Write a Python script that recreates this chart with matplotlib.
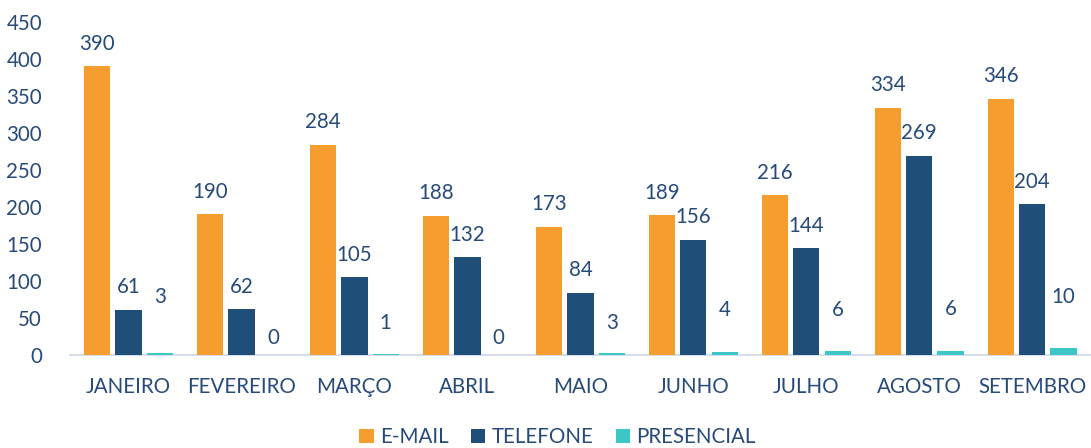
import numpy as np
import matplotlib
matplotlib.use('Agg')
import matplotlib.pyplot as plt

plt.rcParams['font.family'] = ['Lato', 'DejaVu Sans']

meses = ['JANEIRO', 'FEVEREIRO', 'MARÇO', 'ABRIL', 'MAIO', 'JUNHO', 'JULHO', 'AGOSTO', 'SETEMBRO']
email = [390, 190, 284, 188, 173, 189, 216, 334, 346]
telefone = [61, 62, 105, 132, 84, 156, 144, 269, 204]
presencial = [3, 0, 1, 0, 3, 4, 6, 6, 10]
series = ['E-MAIL', 'TELEFONE', 'PRESENCIAL']

c_email = '#F59D2E'
c_tel = '#1F4E79'
c_pres = '#3CC6C6'
c_txt = '#264A7A'
fs = 14.8

# label offsets above bar top (points); presencial labels sit higher
off_pres = [33, 5, 15, 5, 14, 23, 22, 23, 29]

fig = plt.figure(figsize=(10.91, 4.48), dpi=100)
ax = fig.add_axes([0.064, 0.2076, 0.936, 0.7434])

x = np.arange(len(meses))
w = 0.232
d = 0.277

b1 = ax.bar(x - d, email, w, color=c_email, label=series[0], zorder=3)
b2 = ax.bar(x, telefone, w, color=c_tel, label=series[1], zorder=3)
b3 = ax.bar(x + d, presencial, w, color=c_pres, label=series[2], zorder=3)

for bars, vals in ((b1, email), (b2, telefone)):
    for r, v in zip(bars, vals):
        ax.annotate(str(v), (r.get_x() + r.get_width() / 2, v), xytext=(0, 9),
                    textcoords='offset points', ha='center', va='bottom',
                    fontsize=fs, color=c_txt)
for r, v, o in zip(b3, presencial, off_pres):
    ax.annotate(str(v), (r.get_x() + r.get_width() / 2, v), xytext=(0, o),
                textcoords='offset points', ha='center', va='bottom',
                fontsize=fs, color=c_txt)

ax.set_xlim(-0.52, 8.52)
ax.set_ylim(0, 450)
ax.set_yticks(np.arange(0, 451, 50))
ax.set_xticks(x)
ax.set_xticklabels(meses)
ax.tick_params(axis='both', length=0, labelsize=fs, colors=c_txt)
ax.tick_params(axis='x', pad=16)
ax.tick_params(axis='y', pad=20)
for s in ['top', 'right', 'left']:
    ax.spines[s].set_visible(False)
ax.spines['bottom'].set_color('#D6DEEC')
ax.spines['bottom'].set_linewidth(1.5)

leg = fig.legend(loc='lower center', ncol=3, bbox_to_anchor=(0.511, -0.04), frameon=False,
                 fontsize=fs, handlelength=0.7, handleheight=0.7, handletextpad=0.3,
                 columnspacing=1.1)
for t in leg.get_texts():
    t.set_color(c_txt)

fig.savefig('out.png', dpi=100)
